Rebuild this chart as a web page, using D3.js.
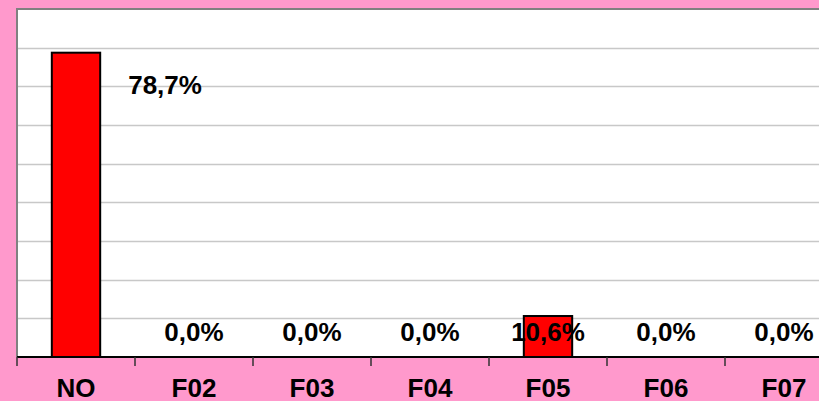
<!DOCTYPE html>
<html lang="en">
  <head>
    <meta charset="utf-8">
    <title>Bar chart</title>
    <style>
      html, body {
        margin: 0;
        padding: 0;
        background: #ff99cc;
      }
      svg text {
        font-family: "Liberation Sans", Arial, sans-serif;
        font-weight: bold;
        font-size: 26px;
        fill: #000;
      }
    </style>
  </head>
  <body>
    <svg id="wrapper" width="819" height="401"></svg>

    <script src="https://cdnjs.cloudflare.com/ajax/libs/d3/7.8.5/d3.min.js"></script>
    <script>
    const categories = ['NO', 'F02', 'F03', 'F04', 'F05', 'F06', 'F07'];
    const values = [78.7, 0.0, 0.0, 0.0, 10.6, 0.0, 0.0];
    const yTicks = [0, 10, 20, 30, 40, 50, 60, 70, 80, 90];

    const plot = {left: 17, top: 9, bottom: 357, step: 118};

    let data = categories.map(function(c, i) {
      return {cat: c, value: values[i]};
    });

    let svg = d3.select('#wrapper');

    // scales
    let x = d3.scaleBand()
      .domain(categories)
      .range([plot.left, plot.left + plot.step * categories.length])
      .paddingInner(0.59)
      .paddingOuter(0.295);
    let y = d3.scaleLinear().domain([0, 90]).range([plot.bottom, plot.top]);

    let gap = x.step() - x.bandwidth();

    // plot area
    svg.append('rect')
      .attr('x', plot.left)
      .attr('y', y(90))
      .attr('width', 900)
      .attr('height', y(0) - y(90))
      .attr('fill', '#fff');

    // gridlines
    svg.append('g')
      .selectAll('line')
      .data(yTicks.slice(1, -1))
      .join('line')
      .attr('x1', plot.left)
      .attr('x2', 900)
      .attr('y1', function(d) { return Math.round(y(d)) + 0.5; })
      .attr('y2', function(d) { return Math.round(y(d)) + 0.5; })
      .attr('stroke', '#c8c8c8')
      .attr('stroke-width', 1.5);

    // frame top / left
    svg.append('path')
      .attr('d', 'M' + plot.left + ',' + plot.bottom + 'V' + y(90) + 'H900')
      .attr('fill', 'none')
      .attr('stroke', '#808080')
      .attr('stroke-width', 2);

    // bars
    svg.append('g')
      .selectAll('rect')
      .data(data.filter(function(d) { return d.value > 0; }))
      .join('rect')
      .attr('x', function(d) { return x(d.cat); })
      .attr('y', function(d) { return y(d.value); })
      .attr('width', x.bandwidth())
      .attr('height', function(d) { return y(0) - y(d.value); })
      .attr('fill', '#ff0000')
      .attr('stroke', '#000')
      .attr('stroke-width', 2);

    // x axis with ticks between categories
    let bounds = categories.map(function(c) { return x(c) - gap / 2; });
    bounds.push(x(categories[categories.length - 1]) + x.bandwidth() + gap / 2);

    svg.append('line')
      .attr('x1', plot.left)
      .attr('x2', 900)
      .attr('y1', y(0))
      .attr('y2', y(0))
      .attr('stroke', '#000')
      .attr('stroke-width', 2);

    svg.append('g')
      .selectAll('line')
      .data(bounds)
      .join('line')
      .attr('x1', function(d) { return d; })
      .attr('x2', function(d) { return d; })
      .attr('y1', y(0))
      .attr('y2', y(0) + 9)
      .attr('stroke', '#333')
      .attr('stroke-width', 1.5);

    // category labels
    svg.append('g')
      .selectAll('text')
      .data(categories)
      .join('text')
      .attr('x', function(d) { return x(d) + x.bandwidth() / 2; })
      .attr('y', y(0) + 40)
      .attr('text-anchor', 'middle')
      .text(function(d) { return d; });

    // value labels (largest one sits beside its bar)
    let maxVal = d3.max(values);
    function fmt(v) { return v.toFixed(1).replace('.', ',') + '%'; }

    svg.append('g')
      .selectAll('text')
      .data(data)
      .join('text')
      .attr('x', function(d) {
        return d.value === maxVal ? x(d.cat) + x.bandwidth() + 28 : x(d.cat) + x.bandwidth() / 2;
      })
      .attr('y', function(d) {
        return d.value === maxVal ? y(d.value) + 41 : y(0) - 16;
      })
      .attr('text-anchor', function(d) { return d.value === maxVal ? 'start' : 'middle'; })
      .text(function(d) { return fmt(d.value); });
    </script>
  </body>
</html>
